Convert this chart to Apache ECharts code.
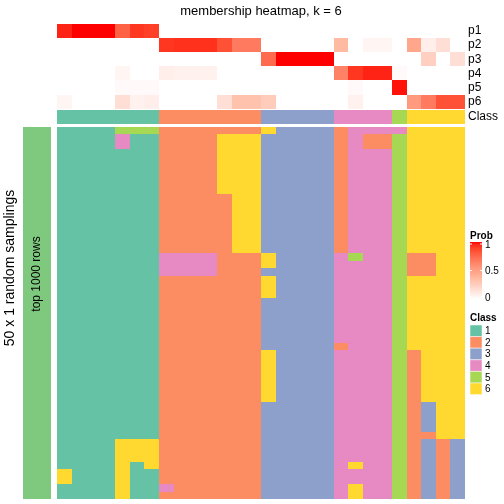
<!DOCTYPE html>
<html><head><meta charset="utf-8">
<script src="https://cdn.jsdelivr.net/npm/echarts@6/dist/echarts.min.js"></script>
<style>html,body{margin:0;padding:0;background:#fff}#c{width:504px;height:504px}</style>
</head><body><div id="c"></div>
<script>
// ---- data ----
const probNames = ['p1','p2','p3','p4','p5','p6'];
const p1 = [0.96,1,1,1,0.78,0.92,0.90, 0,0,0,0,0,0,0, 0,0,0,0,0, 0,0,0,0, 0, 0,0,0,0];
const p2 = [0,0,0,0,0,0,0, 0.92,0.94,0.94,0.94,0.84,0.68,0.68, 0,0,0,0,0, 0.36,0,0.04,0.04, 0, 0.46,0.08,0.16,0];
const p3 = [0,0,0,0,0,0,0, 0,0,0,0,0,0,0, 0.74,1,1,1,1, 0,0,0,0, 0, 0,0.24,0,0.16];
const p4 = [0,0,0,0,0.04,0,0, 0.08,0.06,0.06,0.06,0,0,0, 0,0,0,0,0, 0.64,0.92,0.96,0.96, 0.02, 0,0,0,0];
const p5 = [0,0,0,0,0.02,0.02,0.02, 0,0,0,0,0,0,0, 0,0,0,0,0, 0,0.02,0,0, 0.98, 0,0,0,0];
const p6 = [0.04,0,0,0,0.16,0.06,0.08, 0,0,0,0,0.16,0.32,0.32, 0.26,0,0,0,0, 0,0.06,0,0, 0, 0.54,0.68,0.84,0.84];
const classRow = [1,1,1,1,1,1,1, 2,2,2,2,2,2,2, 3,3,3,3,3, 4,4,4,4, 5, 6,6,6,6];
const membership = [
"1111555222222263333244446666",
"1111411222266633333242256666",
"1111411222266633333242256666",
"1111111222266633333244456666",
"1111111222266633333244456666",
"1111111222266633333244456666",
"1111111222266633333244456666",
"1111111222266633333244456666",
"1111111222266633333244456666",
"1111111222226633333244456666",
"1111111222226633333244456666",
"1111111222226633333244456666",
"1111111222226633333244456666",
"1111111222226633333244456666",
"1111111222226633333244456666",
"1111111222226633333244456666",
"1111111222226633333244456666",
"1111111444422263333454452266",
"1111111444422263333444452266",
"1111111444422233333444452266",
"1111111222222263333444456666",
"1111111222222263333444456666",
"1111111222222263333444456666",
"1111111222222233333444456666",
"1111111222222233333444456666",
"1111111222222233333444456666",
"1111111222222233333444456666",
"1111111222222233333444456666",
"1111111222222233333444456666",
"1111111222222233333244456666",
"1111111222222263333444452666",
"1111111222222263333444452666",
"1111111222222263333444452666",
"1111111222222263333444452666",
"1111111222222263333444452666",
"1111111222222263333444452666",
"1111111222222263333444452666",
"1111111222222233333444452366",
"1111111222222233333444452366",
"1111111222222233333444452366",
"1111111222222233333444452366",
"1111111222222233333444452266",
"1111666222222233333444452323",
"1111666222222233333444452323",
"1111666222222233333444452323",
"1111616222222233333464452323",
"6111611222222233333444452323",
"6111611222222233333444452323",
"1111611422222233333464452323",
"1111611222222233333464452323"
];
const classLabels = ['1','2','3','4','5','6'];
const probTicks = [0, 0.5, 1];

// ---- styles ----
const classColors = ['#66C2A5','#FC8D62','#8DA0CB','#E78AC3','#A6D854','#FFD92F'];
const probColors = ['#FFFFFF','#FFF3F0','#FFEAE4','#FFE1D8','#FFD7CB','#FFCDBE','#FFC6B2','#FFBDA5',
  '#FFB398','#FFA88C','#FFA085','#FF987E','#FF8C6E','#FF8064','#FF765A','#FF684C','#FF5C40',
  '#FF4E32','#FF3F26','#FF2C1A','#FF0000'];
const FONT = '"Liberation Sans", Arial, sans-serif';

const xCats = classRow.map((_, i) => String(i));
const rowCats = membership.map((_, i) => String(i));
const probData = [];
[p1,p2,p3,p4,p5,p6].forEach((arr, r) => arr.forEach((v, c) => probData.push([c, r, v])));
const classData = classRow.map((v, c) => [c, 0, v]);
const memData = [];
membership.forEach((row, r) => row.split('').forEach((ch, c) => memData.push([c, r, Number(ch)])));

// cell renderer: snaps cell edges to whole pixels so neighbouring cells meet without seams
function renderCell(params, api) {
  const c = api.coord([api.value(0), api.value(1)]);
  const s = api.size([1, 1]);
  const x0 = Math.round(c[0] - s[0] / 2), x1 = Math.round(c[0] + s[0] / 2);
  const y0 = Math.round(c[1] - s[1] / 2), y1 = Math.round(c[1] + s[1] / 2);
  return {type:'rect', shape:{x:x0, y:y0, width:x1 - x0, height:y1 - y0}, style:{fill: api.visual('color')}};
}

const L = 57, W = 408;
const axisLab = {margin: 3, fontSize: 12, color: '#000', fontFamily: FONT, interval: 0};
const chart = echarts.init(document.getElementById('c'), null, {renderer: 'canvas'});

const legendX = 470, barTop = 242, barH = 57;
const graphics = [
  {type:'text', x:261, y:11, style:{text:'membership heatmap, k = 6', font:'13px ' + FONT, fill:'#000', textAlign:'center', textVerticalAlign:'middle'}},
  {type:'rect', shape:{x:23, y:127, width:28, height:372}, style:{fill:'#7FC97F'}},
  {type:'text', x:37, y:274, rotation:Math.PI/2, style:{text:'top 1000 rows', font:'12px ' + FONT, fill:'#000', textAlign:'center', textVerticalAlign:'middle'}},
  {type:'text', x:10, y:268, rotation:Math.PI/2, style:{text:'50 x 1 random samplings', font:'14px ' + FONT, fill:'#000', textAlign:'center', textVerticalAlign:'middle'}},
  {type:'text', x:legendX, y:236, style:{text:'Prob', font:'bold 10px ' + FONT, fill:'#000', textVerticalAlign:'middle'}},
  {type:'rect', shape:{x:legendX, y:barTop, width:12, height:barH}, style:{fill:new echarts.graphic.LinearGradient(0,0,0,1,
      probColors.slice().reverse().map((c,i)=>({offset:i/(probColors.length-1), color:c})))}},
  {type:'text', x:legendX, y:318, style:{text:'Class', font:'bold 10px ' + FONT, fill:'#000', textVerticalAlign:'middle'}}
];
probTicks.forEach(t => {
  const y = barTop + 2 + (1 - t) * (barH - 4);
  graphics.push({type:'line', shape:{x1:legendX, y1:y, x2:legendX+2, y2:y}, style:{stroke:'#fff', lineWidth:1}});
  graphics.push({type:'line', shape:{x1:legendX+10, y1:y, x2:legendX+12, y2:y}, style:{stroke:'#fff', lineWidth:1}});
  graphics.push({type:'text', x:legendX+15, y:y+1, style:{text:String(t), font:'10px ' + FONT, fill:'#000', textVerticalAlign:'middle'}});
});
classLabels.forEach((lab, i) => {
  const y = 325 + i * 11.6;
  graphics.push({type:'rect', shape:{x:legendX, y:y, width:12, height:11.6}, style:{fill:classColors[i], stroke:'#fff', lineWidth:0.5}});
  graphics.push({type:'text', x:legendX+15, y:y+6.5, style:{text:lab, font:'10px ' + FONT, fill:'#000', textVerticalAlign:'middle'}});
});

chart.setOption({
  animation: false,
  backgroundColor: '#fff',
  textStyle: {fontFamily: FONT},
  grid: [
    {left:L, width:W, top:24, height:84.7},
    {left:L, width:W, top:110, height:14},
    {left:L, width:W, top:127, height:372}
  ],
  xAxis: [0,1,2].map(i => ({type:'category', data:xCats, gridIndex:i, show:false})),
  yAxis: [
    {type:'category', data:probNames, gridIndex:0, inverse:true, position:'right', axisLine:{show:false}, axisTick:{show:false}, axisLabel:axisLab},
    {type:'category', data:['Class'], gridIndex:1, position:'right', axisLine:{show:false}, axisTick:{show:false}, axisLabel:axisLab},
    {type:'category', data:rowCats, gridIndex:2, inverse:true, show:false}
  ],
  visualMap: [
    {type:'continuous', min:0, max:1, dimension:2, seriesIndex:0, show:false, inRange:{color:probColors}},
    {type:'piecewise', dimension:2, seriesIndex:[1,2], show:false, pieces: classColors.map((c,i)=>({value:i+1, color:c}))}
  ],
  series: [
    {type:'custom', xAxisIndex:0, yAxisIndex:0, data:probData, renderItem:renderCell, encode:{x:0, y:1}},
    {type:'custom', xAxisIndex:1, yAxisIndex:1, data:classData, renderItem:renderCell, encode:{x:0, y:1}},
    {type:'custom', xAxisIndex:2, yAxisIndex:2, data:memData, renderItem:renderCell, encode:{x:0, y:1}}
  ],
  graphic: graphics
});
</script>
</body></html>
